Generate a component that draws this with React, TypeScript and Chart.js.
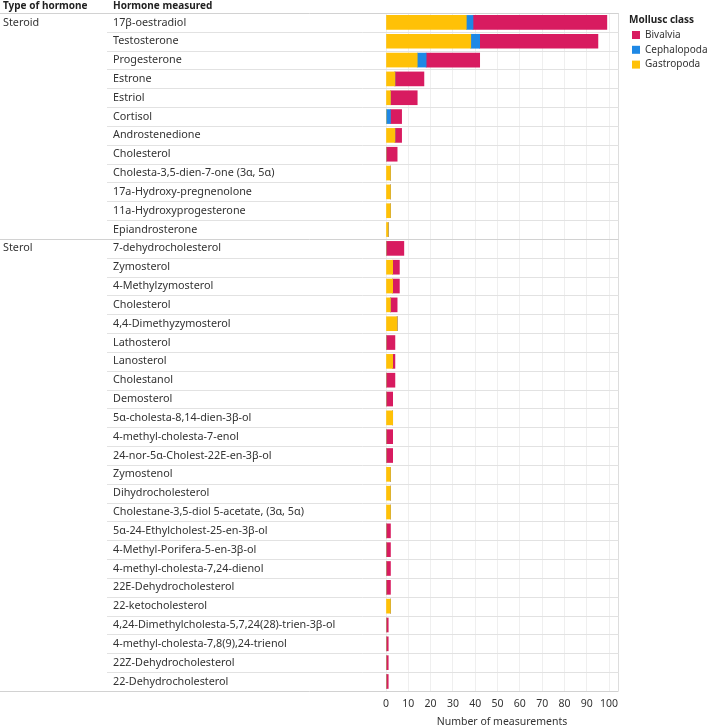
import React, { useEffect, useRef } from "react";
import { Chart, registerables } from "chart.js";

Chart.register(...registerables);

const hormones = [
  "17β-oestradiol",
  "Testosterone",
  "Progesterone",
  "Estrone",
  "Estriol",
  "Cortisol",
  "Androstenedione",
  "Cholesterol",
  "Cholesta-3,5-dien-7-one (3α, 5α)",
  "17a-Hydroxy-pregnenolone",
  "11a-Hydroxyprogesterone",
  "Epiandrosterone",
  "7-dehydrocholesterol",
  "Zymosterol",
  "4-Methylzymosterol",
  "Cholesterol",
  "4,4-Dimethyzymosterol",
  "Lathosterol",
  "Lanosterol",
  "Cholestanol",
  "Demosterol",
  "5α-cholesta-8,14-dien-3β-ol",
  "4-methyl-cholesta-7-enol",
  "24-nor-5α-Cholest-22E-en-3β-ol",
  "Zymostenol",
  "Dihydrocholesterol",
  "Cholestane-3,5-diol 5-acetate, (3α, 5α)",
  "5α-24-Ethylcholest-25-en-3β-ol",
  "4-Methyl-Porifera-5-en-3β-ol",
  "4-methyl-cholesta-7,24-dienol",
  "22E-Dehydrocholesterol",
  "22-ketocholesterol",
  "4,24-Dimethylcholesta-5,7,24(28)-trien-3β-ol",
  "4-methyl-cholesta-7,8(9),24-trienol",
  "22Z-Dehydrocholesterol",
  "22-Dehydrocholesterol",
];

const hormoneTypes = ["Steroid", "Sterol"];
const typeRowCounts = [12, 24];

const gastropoda = [36, 38, 14, 4, 2, 0, 4, 0, 2, 2, 2, 1, 0, 3, 3, 2, 5, 0, 3, 0, 0, 3, 0, 0, 2, 2, 2, 0, 0, 0, 0, 2, 0, 0, 0, 0];
const cephalopoda = [3, 4, 4, 0, 0, 2, 0, 0, 0, 0, 0, 0, 0, 0, 0, 0, 0, 0, 0, 0, 0, 0, 0, 0, 0, 0, 0, 0, 0, 0, 0, 0, 0, 0, 0, 0];
const bivalvia = [60, 53, 24, 13, 12, 5, 3, 5, 0, 0, 0, 0, 8, 3, 3, 3, 0, 4, 1, 4, 3, 0, 3, 3, 0, 0, 0, 2, 2, 2, 2, 0, 1, 1, 1, 1];

const xTickValues = [0, 10, 20, 30, 40, 50, 60, 70, 80, 90, 100];
const legendNames = ["Bivalvia", "Cephalopoda", "Gastropoda"];

const COLORS: Record<string, string> = {
  Bivalvia: "#D81B60",
  Cephalopoda: "#1E88E5",
  Gastropoda: "#FFC107",
};

const FONT = '"Noto Sans", sans-serif';

const tablePlugin = {
  id: "tablePlugin",
  beforeDatasetsDraw(chart: any) {
    const { ctx, chartArea } = chart;
    const n = hormones.length;
    const h = (chartArea.bottom - chartArea.top) / n;
    const groupBounds = [0];
    let acc = 0;
    typeRowCounts.forEach((c) => {
      acc += c;
      groupBounds.push(acc);
    });
    ctx.save();
    ctx.lineWidth = 1;
    ctx.strokeStyle = "#dddddd";
    const rx = Math.round(chartArea.right) + 0.5;
    ctx.beginPath();
    ctx.moveTo(rx, chartArea.top);
    ctx.lineTo(rx, chartArea.bottom);
    ctx.stroke();
    for (let i = 0; i <= n; i++) {
      const y = Math.round(chartArea.top + i * h) + 0.5;
      const isGroup = groupBounds.includes(i);
      ctx.strokeStyle = isGroup ? "#d2d2d2" : "#e2e2e2";
      ctx.beginPath();
      ctx.moveTo(isGroup ? 0 : 107, y);
      ctx.lineTo(rx, y);
      ctx.stroke();
    }
    ctx.restore();
  },
  afterDraw(chart: any) {
    const { ctx } = chart;
    const yScale = chart.scales.y;
    ctx.save();
    ctx.textBaseline = "middle";
    ctx.textAlign = "left";
    ctx.fillStyle = "#222";
    ctx.font = `bold 10px ${FONT}`;
    ctx.fillText("Type of hormone", 3, 6.5);
    ctx.fillText("Hormone measured", 113, 6.5);
    ctx.font = `10.8px ${FONT}`;
    ctx.fillStyle = "#333";
    hormones.forEach((name, i) => {
      ctx.fillText(name, 113, yScale.getPixelForValue(i));
    });
    let start = 0;
    hormoneTypes.forEach((t, k) => {
      ctx.fillText(t, 3, yScale.getPixelForValue(start));
      start += typeRowCounts[k];
    });
    ctx.fillStyle = "#222";
    ctx.font = `bold 10px ${FONT}`;
    ctx.fillText("Mollusc class", 629, 20.5);
    ctx.font = `10px ${FONT}`;
    legendNames.forEach((name, i) => {
      const cy = 35 + i * 14.8;
      ctx.fillStyle = COLORS[name];
      ctx.fillRect(632, cy - 4, 8, 8);
      ctx.fillStyle = "#333";
      ctx.fillText(name, 645, cy);
    });
    ctx.restore();
  },
};

export default function App() {
  const canvasRef = useRef<HTMLCanvasElement | null>(null);

  useEffect(() => {
    const canvas = canvasRef.current;
    if (!canvas) return;
    const chart = new Chart(canvas, {
      type: "bar",
      data: {
        labels: hormones,
        datasets: [
          { label: "Gastropoda", data: gastropoda, backgroundColor: COLORS.Gastropoda, borderWidth: 0, barThickness: 14 },
          { label: "Cephalopoda", data: cephalopoda, backgroundColor: COLORS.Cephalopoda, borderWidth: 0, barThickness: 14 },
          { label: "Bivalvia", data: bivalvia, backgroundColor: COLORS.Bivalvia, borderWidth: 0, barThickness: 14 },
        ],
      },
      options: {
        indexAxis: "y",
        responsive: false,
        animation: false,
        layout: { padding: { left: 386, right: 91, top: 13, bottom: 0 } },
        plugins: {
          legend: { display: false },
          tooltip: { enabled: false },
        },
        scales: {
          x: {
            type: "linear",
            stacked: true,
            min: 0,
            max: 104,
            afterBuildTicks: (scale: any) => {
              scale.ticks = xTickValues.map((v) => ({ value: v }));
            },
            ticks: {
              font: { family: FONT, size: 10.5 },
              color: "#333",
              padding: 7,
              maxRotation: 0,
              autoSkip: false,
            },
            grid: { color: "#efefef", drawTicks: false },
            border: { display: false },
            title: {
              display: true,
              text: "Number of measurements",
              font: { family: FONT, size: 10.5, lineHeight: 1 },
              color: "#333",
              padding: { top: -1, bottom: 0 },
            },
          },
          y: {
            type: "category",
            stacked: true,
            display: false,
            offset: true,
          },
        },
      },
      plugins: [tablePlugin],
    } as any);
    return () => chart.destroy();
  }, []);

  return (
    <div style={{ position: "absolute", left: 0, top: 0, width: 709, height: 727, background: "#fff" }}>
      <canvas ref={canvasRef} width={709} height={727} style={{ display: "block" }} />
    </div>
  );
}
